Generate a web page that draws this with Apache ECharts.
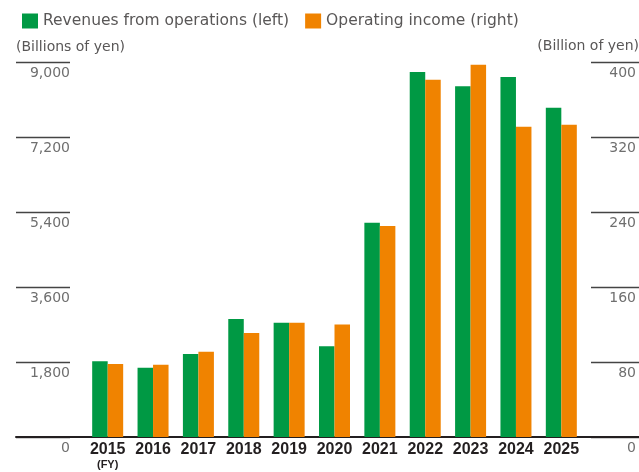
<!DOCTYPE html>
<html>
<head>
<meta charset="utf-8">
<script src="https://cdn.jsdelivr.net/npm/echarts@6/dist/echarts.min.js"></script>
<style>
  html, body { margin: 0; padding: 0; background: #fff; }
  #chart { width: 639px; height: 472px; }
</style>
</head>
<body>
<div id="chart"></div>
<script>
// fiscal years
const years = ['2015', '2016', '2017', '2018', '2019', '2020', '2021', '2022', '2023', '2024', '2025']
// billions of yen, left axis
const revenues = [1820, 1660, 1990, 2830, 2740, 2180, 5140, 8760, 8420, 8640, 7900]
// billions of yen, right axis
const operatingIncome = [78, 77, 91, 111, 122, 120, 225, 381, 397, 331, 333]

const leftMax = 9000
const leftStep = 1800
const rightMax = 400
const rightStep = 80

const GREEN = '#009944'
const ORANGE = '#F08300'
const TEXT = '#595757'
const TICK_TEXT = '#6f6f6f'
const DARK = '#231f20'
const FONT = '"DejaVu Sans", sans-serif'
const BOLD_FONT = '"Liberation Sans", Arial, sans-serif'

const chart = echarts.init(document.getElementById('chart'))

const gridTop = 62
const gridBottom = 35

const option = {
  animation: false,
  title: {
    text: '(Billion of yen)',
    right: 0,
    top: 39,
    padding: 0,
    textStyle: { color: TEXT, fontSize: 14, fontWeight: 'normal', fontFamily: FONT }
  },
  legend: {
    left: 17,
    top: 8,
    icon: 'rect',
    itemWidth: 16,
    itemHeight: 15,
    itemGap: 16,
    textStyle: { color: TEXT, fontSize: 15.5, fontFamily: FONT },
    data: ['Revenues from operations (left)', 'Operating income (right)']
  },
  grid: [
    // bars
    { left: 85, right: 55, top: gridTop, bottom: gridBottom },
    // left tick strip
    { left: 16, width: 54, top: gridTop, bottom: gridBottom },
    // right tick strip
    { left: 591, right: 0, top: gridTop, bottom: gridBottom },
    // baseline across the whole width
    { left: 16, right: 0, top: gridTop, bottom: gridBottom }
  ],
  xAxis: [
    {
      type: 'category',
      gridIndex: 0,
      data: years,
      axisLine: { show: false },
      axisTick: { show: false },
      axisLabel: {
        interval: 0,
        margin: 5,
        formatter: (v, i) => i === 0 ? '{y|' + v + '}\n{fy|(FY)}' : '{y|' + v + '}',
        rich: {
          y: { fontSize: 16, fontWeight: 'bold', color: DARK, lineHeight: 16, fontFamily: BOLD_FONT },
          fy: { fontSize: 11, fontWeight: 'bold', color: DARK, lineHeight: 14, fontFamily: BOLD_FONT }
        }
      }
    },
    { type: 'value', gridIndex: 1, show: false },
    { type: 'value', gridIndex: 2, show: false },
    {
      type: 'value',
      gridIndex: 3,
      axisLine: { show: true, lineStyle: { color: DARK, width: 2 } },
      axisTick: { show: false },
      axisLabel: { show: false },
      splitLine: { show: false }
    }
  ],
  yAxis: [
    { type: 'value', gridIndex: 0, min: 0, max: leftMax, interval: leftStep, show: false },
    { type: 'value', gridIndex: 0, min: 0, max: rightMax, interval: rightStep, show: false },
    {
      type: 'value',
      gridIndex: 1,
      min: 0,
      max: leftMax,
      interval: leftStep,
      name: '(Billions of yen)',
      nameLocation: 'end',
      nameGap: 15,
      nameTextStyle: { color: TEXT, fontSize: 14, fontFamily: FONT, align: 'left', verticalAlign: 'middle' },
      axisLine: { show: false },
      axisTick: { show: false },
      splitLine: { show: true, lineStyle: { color: '#444', width: 1.3 } },
      axisLabel: {
        inside: true,
        margin: 54,
        align: 'right',
        verticalAlign: 'top',
        padding: [4, 0, 0, 0],
        color: TICK_TEXT,
        fontSize: 14,
        fontFamily: FONT,
        formatter: v => v.toLocaleString('en-US')
      }
    },
    {
      type: 'value',
      gridIndex: 2,
      position: 'right',
      min: 0,
      max: rightMax,
      interval: rightStep,
      axisLine: { show: false },
      axisTick: { show: false },
      splitLine: { show: true, lineStyle: { color: '#444', width: 1.3 } },
      axisLabel: {
        inside: true,
        margin: 3,
        align: 'right',
        verticalAlign: 'top',
        padding: [4, 0, 0, 0],
        color: TICK_TEXT,
        fontSize: 14,
        fontFamily: FONT
      }
    },
    { type: 'value', gridIndex: 3, show: false }
  ],
  series: [
    {
      name: 'Revenues from operations (left)',
      type: 'bar',
      xAxisIndex: 0,
      yAxisIndex: 0,
      data: revenues,
      barWidth: 15.5,
      barGap: '0%',
      itemStyle: { color: GREEN }
    },
    {
      name: 'Operating income (right)',
      type: 'bar',
      xAxisIndex: 0,
      yAxisIndex: 1,
      data: operatingIncome,
      barWidth: 15.5,
      barGap: '0%',
      itemStyle: { color: ORANGE }
    }
  ]
}

chart.setOption(option)
</script>
</body>
</html>
